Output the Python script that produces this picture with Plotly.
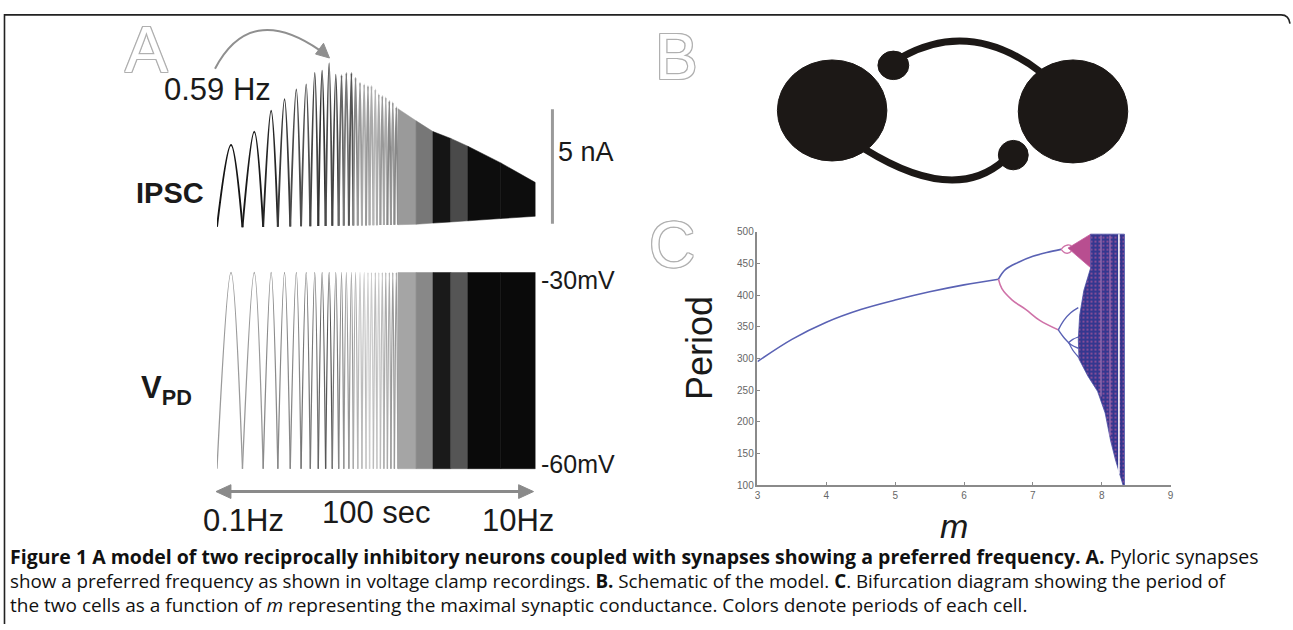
import plotly.graph_objects as go

W, H = 1293, 630


def px(x):
    return x / W


def py(y):
    return 1 - y / H


# ---------------- Panel A: chirp stimulus responses ----------------
# resolvable cycles (time in s, 0.1 Hz -> 10 Hz over 100 s)
peak_t = [4.4, 11.7, 17.0, 21.2, 24.9, 28.0, 30.7, 33.0, 35.2, 37.3, 39.1, 40.6,
          42.2, 43.5, 44.9, 46.2, 47.4, 48.5, 49.7, 50.8, 51.9, 53.0, 54.1, 55.2, 56.3]
trough_t = [0.0, 8.0, 14.5, 19.1, 23.0, 26.4, 29.3, 31.8, 34.1, 36.2, 38.2, 39.8,
            41.4, 42.8, 44.2, 45.5, 46.8, 47.9, 49.1, 50.2, 51.3, 52.4, 53.5, 54.6, 55.7, 56.8]
ipsc_peak = [3.61, 4.19, 5.11, 5.61, 6.04, 6.26, 6.76, 6.86, 7.19, 6.69, 6.66, 6.76,
             6.76, 6.55, 6.33, 6.26, 6.19, 6.19, 6.04, 5.83, 5.76, 5.69, 5.54, 5.47, 5.26]
ipsc_trough = [0.04, 0.02, 0.03, 0.04, 0.05, 0.06, 0.06, 0.07, 0.07, 0.08, 0.08, 0.09,
               0.09, 0.10, 0.10, 0.10, 0.10, 0.11, 0.11, 0.11, 0.12, 0.12, 0.12, 0.12, 0.13, 0.13]
vpd_top = -30
vpd_bottom = -60
ipsc_gray = ['#151515', '#1a1a1a', '#262626', '#3a3a3a', '#4a4a4a', '#505050', '#444444',
             '#333333', '#4a4a4a', '#444444', '#666666', '#777777', '#555555', '#888888',
             '#999999', '#aaaaaa', '#999999', '#aaaaaa', '#b5b5b5', '#aaaaaa', '#999999',
             '#aaaaaa', '#888888', '#999999', '#888888']
vpd_gray = ['#9a9a9a', '#999999', '#8a8a8a', '#888888', '#888888', '#777777', '#777777',
            '#666666', '#555555', '#777777', '#888888', '#999999', '#999999', '#aaaaaa',
            '#bbbbbb', '#bbbbbb', '#cccccc', '#cccccc', '#bbbbbb', '#cccccc', '#bbbbbb',
            '#aaaaaa', '#aaaaaa', '#999999', '#999999']
# dense (unresolvable) part of the sweep
dense_t = [56.8, 62.5, 67.8, 73.4, 78.75, 89.1, 100.0]
ipsc_env_top = [5.20, 4.67, 4.20, 3.90, 3.56, 2.83, 1.97]
ipsc_env_bot = [0.13, 0.15, 0.20, 0.25, 0.30, 0.40, 0.50]
ipsc_band_gray = ['#9a9a9a', '#777777', '#151515', '#4a4a4a', '#0d0d0d', '#0d0d0d']
vpd_band_gray = ['#a5a5a5', '#888888', '#1a1a1a', '#555555', '#0a0a0a', '#0a0a0a']
scale_bar_nA = [0.17, 5.17]
sweep_s = [0, 100]

# ---------------- Panel C: bifurcation diagram ----------------
stem_m = [3.0, 3.5, 4.0, 4.5, 5.0, 5.5, 6.0, 6.5]
stem_p = [295, 330, 357, 377, 392, 405, 416, 425]
upper_m = [6.5, 6.6, 6.8, 7.0, 7.2, 7.41]
upper_p = [425, 440, 452, 461, 467, 472]
lower_m = [6.5, 6.55, 6.7, 6.9, 7.1, 7.37]
lower_p = [425, 410, 392, 377, 360, 345]
loop_hi_m = [7.41, 7.46, 7.51, 7.56]
loop_hi_top = [472, 477, 479, 478]
loop_hi_bot = [472, 467, 466, 469]
loop_lo_m = [7.37, 7.45, 7.55, 7.66]
loop_lo_top = [345, 360, 372, 380]
loop_lo_bot = [345, 333, 322, 316]
loop_lo2_m = [7.52, 7.58, 7.64, 7.68]
loop_lo2_top = [325, 330, 333, 334]
loop_lo2_bot = [325, 313, 305, 300]
wedge_m = [7.51, 7.84, 7.84, 7.51]
wedge_p = [474, 496, 443, 474]
chaos_m = [7.84, 7.84, 7.74, 7.68, 7.66, 7.67, 7.80, 7.94, 8.05, 8.13, 8.20, 8.28, 8.31, 8.33, 8.33, 7.84]
chaos_p = [496, 443, 407, 368, 330, 299, 272, 248, 214, 170, 140, 108, 100, 100, 496, 496]
gap_m = 8.25
gap_p = [118, 496]
stripe_m = [7.99, 8.12]
stripe_low = [240, 178]

BLUE = '#5a62b4'
PINK = '#cf72a8'
DARKBLUE = '#34378f'

fig = go.Figure()

# ---- Panel A traces ----
for i in range(len(peak_t)):
    fig.add_trace(go.Scatter(
        x=[trough_t[i], peak_t[i], trough_t[i + 1]],
        y=[ipsc_trough[i], ipsc_peak[i], ipsc_trough[i + 1]],
        xaxis='x2', yaxis='y2', mode='lines',
        line=dict(color=ipsc_gray[i], width=1.9, shape='spline'),
        hoverinfo='skip', showlegend=False))
    fig.add_trace(go.Scatter(
        x=[trough_t[i], peak_t[i], trough_t[i + 1]],
        y=[vpd_bottom, vpd_top, vpd_bottom],
        xaxis='x2', yaxis='y3', mode='lines',
        line=dict(color=vpd_gray[i], width=1.3, shape='spline'),
        hoverinfo='skip', showlegend=False))

for j in range(len(dense_t) - 1):
    fig.add_trace(go.Scatter(
        x=[dense_t[j], dense_t[j + 1], dense_t[j + 1], dense_t[j], dense_t[j]],
        y=[ipsc_env_bot[j], ipsc_env_bot[j + 1], ipsc_env_top[j + 1], ipsc_env_top[j], ipsc_env_bot[j]],
        xaxis='x2', yaxis='y2', mode='lines', fill='toself',
        fillcolor=ipsc_band_gray[j], line=dict(width=0.5, color=ipsc_band_gray[j]),
        hoverinfo='skip', showlegend=False))
    fig.add_trace(go.Scatter(
        x=[dense_t[j], dense_t[j + 1], dense_t[j + 1], dense_t[j], dense_t[j]],
        y=[vpd_bottom, vpd_bottom, vpd_top, vpd_top, vpd_bottom],
        xaxis='x2', yaxis='y3', mode='lines', fill='toself',
        fillcolor=vpd_band_gray[j], line=dict(width=0.5, color=vpd_band_gray[j]),
        hoverinfo='skip', showlegend=False))


# ---- Panel C traces ----
def line(xs, ys, color, width=1.6):
    fig.add_trace(go.Scatter(x=xs, y=ys, mode='lines', xaxis='x', yaxis='y',
                             line=dict(color=color, width=width, shape='spline'),
                             hoverinfo='skip', showlegend=False))


line(stem_m, stem_p, BLUE)
line(upper_m, upper_p, BLUE)
line(lower_m, lower_p, PINK)
line(loop_hi_m, loop_hi_top, PINK, 1.4)
line(loop_hi_m, loop_hi_bot, PINK, 1.4)
line(loop_lo_m, loop_lo_top, BLUE, 1.4)
line(loop_lo_m, loop_lo_bot, BLUE, 1.4)
line(loop_lo2_m, loop_lo2_top, BLUE, 1.2)
line(loop_lo2_m, loop_lo2_bot, BLUE, 1.2)

fig.add_trace(go.Scatter(x=wedge_m, y=wedge_p, mode='lines', fill='toself',
                         fillcolor='#b84e90', line=dict(width=0.8, color='#c660a0'),
                         hoverinfo='skip', showlegend=False))
fig.add_trace(go.Scatter(x=chaos_m, y=chaos_p, mode='lines', fill='toself',
                         fillcolor=DARKBLUE,
                         fillpattern=dict(shape='.', fgcolor='#c45d9c', bgcolor=DARKBLUE,
                                          fgopacity=0.75, size=4, solidity=0.2, fillmode='overlay'),
                         line=dict(width=0.8, color='#4a4fa5'),
                         hoverinfo='skip', showlegend=False))
for k in range(len(stripe_m)):
    fig.add_trace(go.Scatter(x=[stripe_m[k], stripe_m[k]], y=[stripe_low[k], 494], mode='lines',
                             line=dict(color='rgba(225,150,200,0.6)', width=1.3),
                             hoverinfo='skip', showlegend=False))
fig.add_trace(go.Scatter(x=[gap_m, gap_m], y=gap_p, mode='lines',
                         line=dict(color='white', width=1.6),
                         hoverinfo='skip', showlegend=False))

axis_c = dict(showline=True, linecolor='#8a8a8a', linewidth=1.5, ticks='inside',
              ticklen=3, tickwidth=1, tickcolor='#8a8a8a', showgrid=False, zeroline=False,
              tickfont=dict(family='Liberation Sans, Arial', size=10, color='#666666'))

fig.update_layout(
    width=W, height=H, margin=dict(l=0, r=0, t=0, b=0),
    paper_bgcolor='white', plot_bgcolor='rgba(0,0,0,0)', showlegend=False,
    xaxis=dict(domain=[px(758), px(1173)], range=[3, 9], anchor='y',
               tickvals=[3, 4, 5, 6, 7, 8, 9], **axis_c),
    yaxis=dict(domain=[py(488.5), py(230)], range=[100, 500], anchor='x',
               tickvals=[100, 150, 200, 250, 300, 350, 400, 450, 500], **axis_c),
    xaxis2=dict(domain=[px(215), px(535)], range=[0, 100], anchor='y2', visible=False),
    yaxis2=dict(domain=[py(235), py(40)], range=[-0.386, 7.972], anchor='x2', visible=False),
    yaxis3=dict(domain=[py(480), py(265)], range=[-61.245, -28.995], anchor='x2', visible=False),
)

shapes = []
INK = '#1c1816'
# frame
shapes.append(dict(type='path', xref='paper', yref='paper',
                   path=f'M {px(1.5)},{py(630)} L {px(1.5)},{py(9)} L {px(1284)},{py(9)} '
                        f'Q {px(1292)},{py(9)} {px(1293)},{py(18)}',
                   line=dict(color='#222222', width=1.6)))
# panel B schematic
shapes.append(dict(type='path', xref='paper', yref='paper',
                   path=f'M {px(903)},{py(52)} Q {px(972)},{py(13)} {px(1042)},{py(67)}',
                   line=dict(color=INK, width=7)))
shapes.append(dict(type='path', xref='paper', yref='paper',
                   path=f'M {px(866)},{py(146)} Q {px(955)},{py(202)} {px(1005)},{py(158)}',
                   line=dict(color=INK, width=7)))
for (x0, x1, y0, y1) in [(778, 888, 55, 158), (1020, 1130, 55, 160),
                         (879, 910, 46, 75), (1000, 1030, 137, 167)]:
    shapes.append(dict(type='circle', xref='paper', yref='paper',
                       x0=px(x0), x1=px(x1), y0=py(y1), y1=py(y0),
                       fillcolor=INK, line=dict(color=INK, width=1)))
# panel A decorations
shapes.append(dict(type='path', xref='paper', yref='paper',
                   path=f'M {px(213)},{py(64)} Q {px(248)},{py(-4)} {px(318)},{py(45)}',
                   line=dict(color='#8f8f8f', width=2)))
shapes.append(dict(type='path', xref='paper', yref='paper',
                   path=f'M {px(328)},{py(53)} L {px(314)},{py(49)} L {px(322)},{py(38)} Z',
                   fillcolor='#8f8f8f', line=dict(color='#8f8f8f', width=1)))
shapes.append(dict(type='line', xref='paper', yref='y2', x0=px(552), x1=px(552),
                   y0=scale_bar_nA[0], y1=scale_bar_nA[1],
                   line=dict(color='#9a9a9a', width=3)))
# 100 sec double-headed arrow (sweep duration on the time axis)
shapes.append(dict(type='line', xref='x2', yref='paper', x0=sweep_s[0] + 3, x1=sweep_s[1] - 4,
                   y0=py(495), y1=py(495), line=dict(color='#8a8a8a', width=3)))
shapes.append(dict(type='path', xref='paper', yref='paper',
                   path=f'M {px(214)},{py(495)} L {px(229)},{py(488)} L {px(229)},{py(502)} Z',
                   fillcolor='#8a8a8a', line=dict(color='#8a8a8a', width=1)))
shapes.append(dict(type='path', xref='paper', yref='paper',
                   path=f'M {px(533)},{py(495)} L {px(518)},{py(488)} L {px(518)},{py(502)} Z',
                   fillcolor='#8a8a8a', line=dict(color='#8a8a8a', width=1)))
fig.update_layout(shapes=shapes)

ann = []
outline = ('1px 0 #b0b0b0, -1px 0 #b0b0b0, 0 1px #b0b0b0, 0 -1px #b0b0b0, '
           '1px 1px #b0b0b0, -1px -1px #b0b0b0, 1px -1px #b0b0b0, -1px 1px #b0b0b0')
SANS = 'Liberation Sans, Arial, sans-serif'


def text(x, y, s, size, color='#1a1a1a', family=SANS, **kw):
    d = dict(xref='paper', yref='paper', x=px(x), y=py(y), text=s, showarrow=False,
             font=dict(family=family, size=size, color=color), xanchor='center', yanchor='middle')
    d.update(kw)
    ann.append(d)


for (x, y, s) in [(144, 45, 'A'), (677, 52, 'B'), (672, 244, 'C')]:
    ann.append(dict(xref='paper', yref='paper', x=px(x), y=py(y), text=s, showarrow=False,
                    xanchor='center', yanchor='middle',
                    font=dict(family=SANS, size=64, color='white', shadow=outline)))

text(216, 85, '0.59 Hz', 31)
text(168, 191, '<b>IPSC</b>', 29)
text(586, 149, '5 nA', 27)
text(164, 391, '<b>V<sub>PD</sub></b>', 31)
text(578, 279, '-30mV', 25)
text(578, 467, '-60mV', 25)
text(242, 524, '0.1Hz', 31)
text(375, 516, '100 sec', 31)
text(517, 524, '10Hz', 31)

# panel C titles
text(700, 349, 'Period', 36, textangle=-90)
text(955, 530, '<i>m</i>', 34)

# caption
CAP = 'Open Sans, Noto Sans, sans-serif'
cap1 = ('<b>Figure 1 A model of two reciprocally inhibitory neurons coupled with synapses '
        'showing a preferred frequency. A.</b> Pyloric synapses')
cap2 = ('show a preferred frequency as shown in voltage clamp recordings. <b>B.</b> '
        'Schematic of the model. <b>C</b>. Bifurcation diagram showing the period of')
cap3 = ('the two cells as a function of <i>m</i> representing the maximal synaptic '
        'conductance. Colors denote periods of each cell.')
for (y, s, fs) in [(561, cap1, 19.5), (586, cap2, 18.8), (611, cap3, 19.0)]:
    text(5, y, s, fs, color='#111111', family=CAP, xanchor='left')

fig.update_layout(annotations=ann)
fig.write_html('out.html', config={'displayModeBar': False},
               post_script="document.body.style.margin='0px';")
